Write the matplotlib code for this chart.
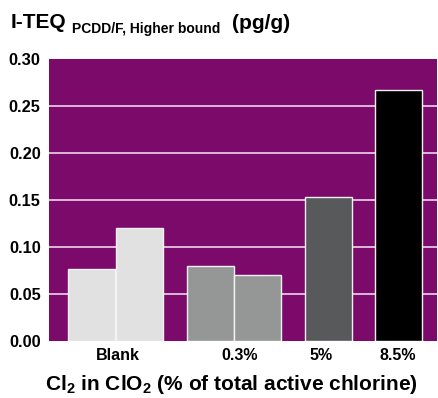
import matplotlib
matplotlib.use("Agg")
import matplotlib.pyplot as plt

plt.rcParams['font.family'] = ['Liberation Sans', 'DejaVu Sans']
plt.rcParams['mathtext.fontset'] = 'custom'
plt.rcParams['mathtext.bf'] = 'Liberation Sans:bold'
plt.rcParams['mathtext.rm'] = 'Liberation Sans:bold'

categories = ["Blank", "0.3%", "5%", "8.5%"]
bar_groups = [0, 0, 1, 1, 2, 3]
values = [0.077, 0.120, 0.080, 0.070, 0.153, 0.267]
group_colors = ["#E0E1E0", "#959696", "#58595B", "#000000"]
yticks = [0.00, 0.05, 0.10, 0.15, 0.20, 0.25, 0.30]
ytick_labels = ["0.00", "0.05", "0.10", "0.15", "0.20", "0.25", "0.30"]

# bar positions in bar-width units
positions = [0.915, 1.925, 3.43, 4.44, 5.94, 7.45]
label_pos = [1.47, 4.05, 5.8, 7.43]

W, H = 438, 398
fig = plt.figure(figsize=(W / 100, H / 100), dpi=100)
ax = fig.add_axes([49 / W, 1 - 341 / H, 388 / W, 282 / H])
ax.set_facecolor("#7B0A6B")
for s in ax.spines.values():
    s.set_visible(False)

ax.set_xlim(0, 8.26)
ax.set_ylim(0, 0.30)
for y in yticks[1:-1]:
    ax.axhline(y, color="#EBD6E8", lw=1.2, zorder=1)

ax.bar(positions, values, width=1.0,
       color=[group_colors[g] for g in bar_groups],
       edgecolor="#F2F2F2", linewidth=1.0, zorder=2)

ax.set_yticks(yticks)
ax.set_yticklabels(ytick_labels, fontsize=11.8, fontweight="bold")
ax.set_xticks(label_pos)
ax.set_xticklabels(categories, fontsize=11.5, fontweight="bold")
ax.tick_params(axis="y", length=0, pad=6)
ax.tick_params(axis="x", length=0, pad=5)

ax.set_xlabel(r"Cl$_\mathbf{2}$ in ClO$_\mathbf{2}$ (% of total active chlorine)",
              fontsize=15, fontweight="bold")
ax.xaxis.set_label_coords(0.47, -0.115)

fig.text(11 / W, 1 - 28 / H, "I-TEQ", fontsize=15, fontweight="bold",
         ha="left", va="baseline")
fig.text(72 / W, 1 - 32.5 / H, "PCDD/F, Higher bound", fontsize=10.0,
         fontweight="bold", ha="left", va="baseline")
fig.text(232 / W, 1 - 29 / H, "(pg/g)", fontsize=15, fontweight="bold",
         ha="left", va="baseline")

fig.savefig("out.png", dpi=100)
